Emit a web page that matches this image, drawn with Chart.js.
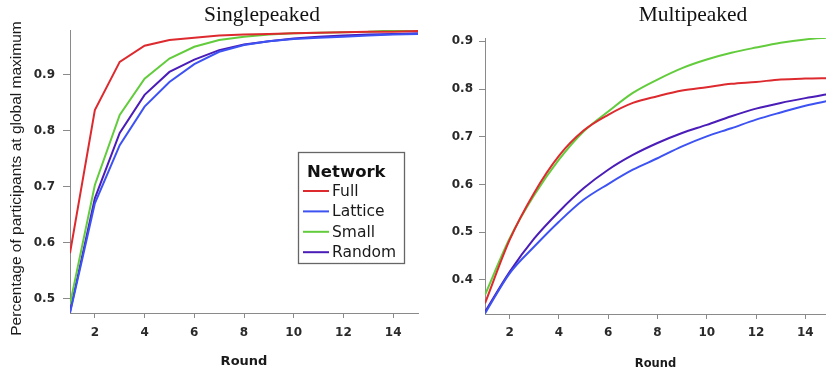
<!DOCTYPE html>
<html><head><meta charset="utf-8">
<script src="https://cdn.jsdelivr.net/npm/chart.js@4.4.0/dist/chart.umd.min.js"></script>
<style>
html,body{margin:0;padding:0;background:#fff;overflow:hidden;width:826px;height:373px}
canvas{position:absolute;top:0}
#c1{left:0}
#c2{left:420px}
</style></head><body>
<canvas id="c1" width="420" height="373"></canvas>
<canvas id="c2" width="406" height="373"></canvas>
<script>
// ---- data ----
const rounds = [1,2,3,4,5,6,7,8,9,10,11,12,13,14,15];
const networks = ['Full','Lattice','Small','Random'];
const xTickLabels = [2,4,6,8,10,12,14];
const singleYTicks = [0.5,0.6,0.7,0.8,0.9];
const multiYTicks = [0.4,0.5,0.6,0.7,0.8,0.9];

const singleFull    = [0.581,0.837,0.923,0.952,0.962,0.966,0.970,0.972,0.973,0.974,0.975,0.976,0.977,0.977,0.978];
const singleLattice = [0.474,0.670,0.774,0.843,0.887,0.919,0.941,0.953,0.960,0.964,0.966,0.968,0.970,0.972,0.973];
const singleSmall   = [0.490,0.703,0.828,0.893,0.929,0.950,0.962,0.968,0.972,0.974,0.975,0.976,0.977,0.979,0.981];
const singleRandom  = [0.476,0.679,0.796,0.864,0.905,0.927,0.944,0.954,0.960,0.965,0.968,0.970,0.972,0.973,0.974];

const multiFull    = [0.351,0.484,0.583,0.660,0.713,0.746,0.771,0.785,0.797,0.804,0.811,0.815,0.820,0.822,0.823];
const multiLattice = [0.330,0.414,0.470,0.522,0.568,0.601,0.631,0.655,0.680,0.701,0.718,0.736,0.751,0.765,0.776];
const multiSmall   = [0.369,0.487,0.578,0.652,0.711,0.753,0.792,0.820,0.844,0.862,0.876,0.887,0.897,0.904,0.908];
const multiRandom  = [0.333,0.417,0.487,0.543,0.592,0.631,0.662,0.687,0.708,0.725,0.743,0.759,0.771,0.781,0.790];

// ---- styles ----
const seriesColors = ['#dd2a2f','#3d52f2','#62cc3c','#4a1cb8'];
const tickColor = '#2a2a2a';
const axisColor = '#8a8a8a';

function makeDatasets(series, tension){
  return series.map((vals,i)=>({
    label: networks[i],
    data: rounds.map((r,j)=>({x:r,y:vals[j]})),
    borderColor: seriesColors[i],
    backgroundColor: seriesColors[i],
    borderWidth: 2,
    pointRadius: 0,
    tension: tension,
    cubicInterpolationMode: tension ? 'monotone' : 'default',
    fill: false
  }));
}

function textPlugin(id, items){
  return {id, afterDraw(chart){
    const ctx = chart.ctx;
    items(ctx, chart);
  }};
}

function xScale(min,max,tickPad,titleSize,titlePadBottom,h){
  return {
    type:'linear', min, max,
    afterBuildTicks: s => { s.ticks = xTickLabels.map(v=>({value:v})); },
    afterFit: s => { s.height = h; },
    grid:{display:true, drawOnChartArea:false, drawTicks:true, tickLength:5, color:axisColor},
    border:{display:true, color:axisColor, width:1},
    ticks:{color:tickColor, padding:tickPad, maxRotation:0, autoSkip:false,
           font:{family:'"DejaVu Sans"', size:12, weight:'bold'}},
    title:{display:true, text:'Round', color:'#1a1a1a',
           font:{family:'"DejaVu Sans"', size:titleSize, weight:'bold'},
           padding:{top:0,bottom:titlePadBottom}}
  };
}
function yScale(min,max,ticksArr,tickLen,tickPad,w){
  return {
    type:'linear', min, max,
    afterBuildTicks: s => { s.ticks = ticksArr.map(v=>({value:v})); },
    afterFit: s => { s.width = w; },
    grid:{display:true, drawOnChartArea:false, drawTicks:true, tickLength:tickLen, color:axisColor},
    border:{display:true, color:axisColor, width:1},
    ticks:{color:tickColor, padding:tickPad, autoSkip:false,
           callback: v => Number(v).toFixed(1),
           font:{family:'"DejaVu Sans"', size:12, weight:'bold'}}
  };
}

const common = {
  responsive:false, animation:false, devicePixelRatio:1,
  plugins:{legend:{display:false}, tooltip:{enabled:false}, title:{display:false}}
};

// ---- left chart ----
new Chart(document.getElementById('c1'), {
  type:'line',
  data:{datasets: makeDatasets([singleFull,singleLattice,singleSmall,singleRandom], 0)},
  options:Object.assign({}, common, {
    layout:{padding:{top:30,right:2,left:0,bottom:0}},
    scales:{
      x: xScale(1,15,8,13,4,60),
      y: yScale(0.474,0.98,singleYTicks,7,8,70)
    }
  }),
  plugins:[textPlugin('texts1',(ctx)=>{
    ctx.save();
    ctx.fillStyle='#111';
    ctx.font='21.5px "Liberation Serif"';
    ctx.textAlign='center'; ctx.textBaseline='alphabetic';
    ctx.fillText('Singlepeaked',262,21);
    // y axis title
    ctx.translate(17,178.5); ctx.rotate(-Math.PI/2);
    ctx.font='15.5px "Liberation Sans"'; ctx.textBaseline='middle'; ctx.fillStyle='#1a1a1a';
    ctx.fillText('Percentage of participants at global maximum',0,0);
    ctx.restore();
    // legend
    ctx.save();
    ctx.fillStyle='#fff'; ctx.fillRect(298.5,152.5,106,111);
    ctx.strokeStyle='#666'; ctx.lineWidth=1.3; ctx.strokeRect(298.5,152.5,106,111);
    ctx.fillStyle='#111'; ctx.font='bold 16.5px "DejaVu Sans"';
    ctx.textAlign='left'; ctx.textBaseline='alphabetic';
    ctx.fillText('Network',307,177);
    ctx.font='15.5px "DejaVu Sans"'; ctx.textBaseline='middle';
    networks.forEach((n,i)=>{
      const y = 191 + i*20.4;
      ctx.strokeStyle=seriesColors[i]; ctx.lineWidth=2;
      ctx.beginPath(); ctx.moveTo(303,y); ctx.lineTo(329,y); ctx.stroke();
      ctx.fillStyle='#1a1a1a';
      ctx.fillText(n,332,y+1);
    });
    ctx.restore();
  })]
});

// ---- right chart ----
new Chart(document.getElementById('c2'), {
  type:'line',
  data:{datasets: makeDatasets([multiFull,multiLattice,multiSmall,multiRandom], 0.4)},
  options:Object.assign({}, common, {
    layout:{padding:{top:38,right:0,left:0,bottom:0}},
    scales:{
      x: xScale(1,14.84,7,11.5,2,59),
      y: yScale(0.3287,0.907,multiYTicks,6,6,65)
    }
  }),
  plugins:[textPlugin('texts2',(ctx)=>{
    ctx.save();
    ctx.fillStyle='#111';
    ctx.font='21.5px "Liberation Serif"';
    ctx.textAlign='center'; ctx.textBaseline='alphabetic';
    ctx.fillText('Multipeaked',693-420,21);
    ctx.restore();
  })]
});
</script>
</body></html>
